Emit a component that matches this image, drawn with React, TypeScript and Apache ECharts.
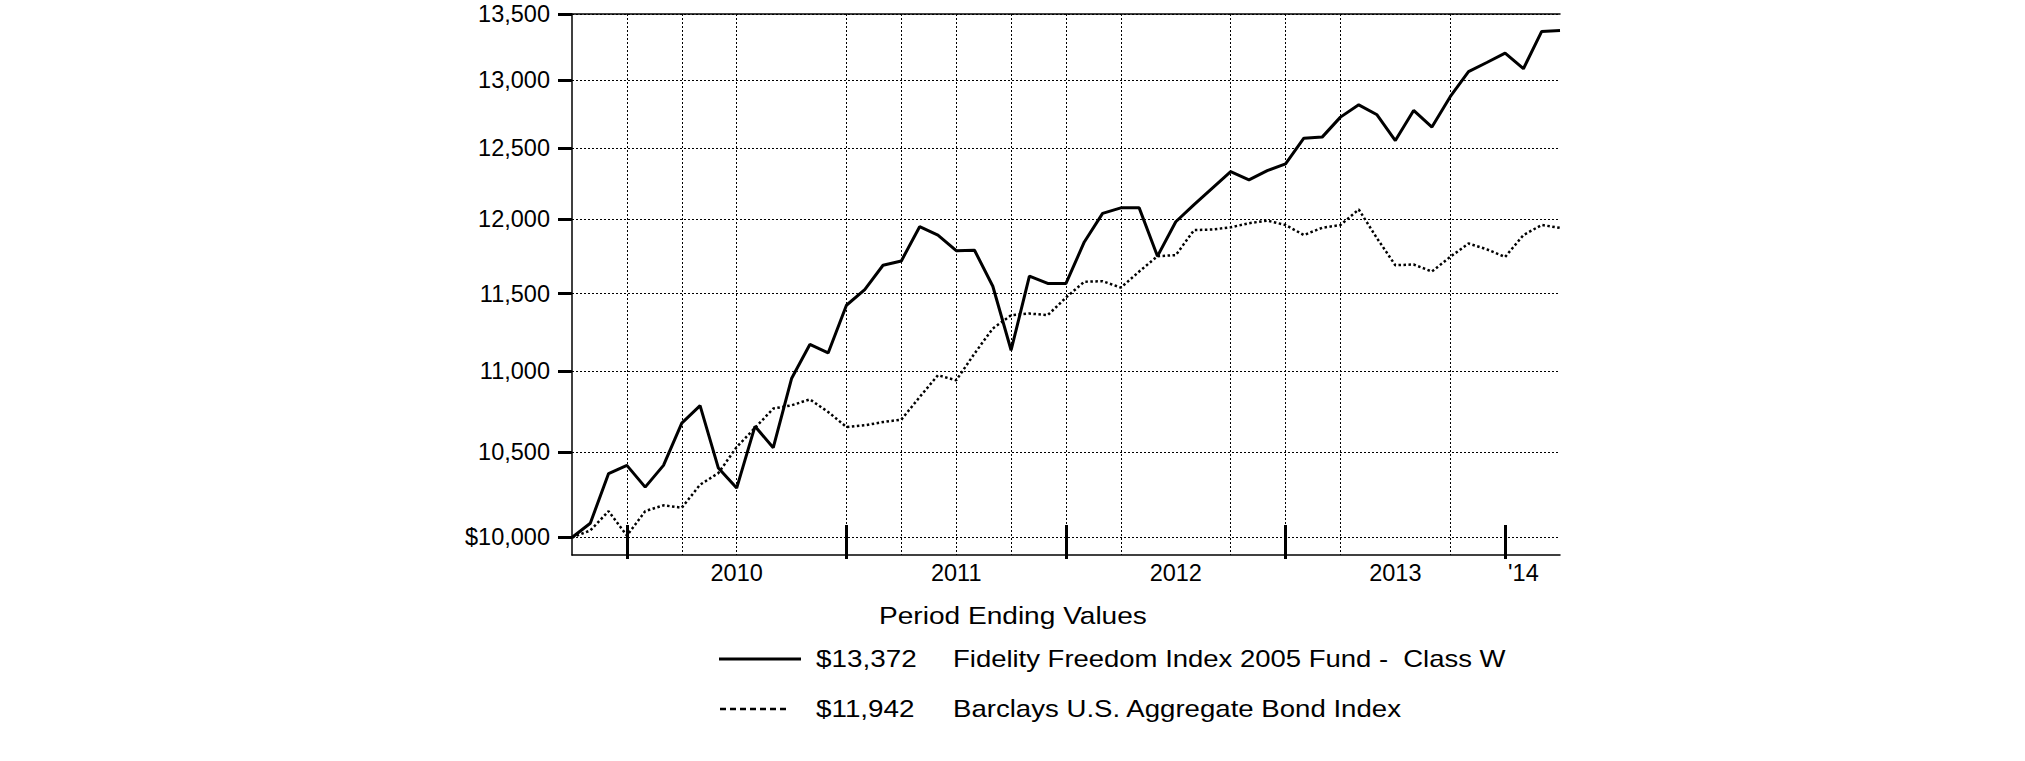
import React, { useEffect, useRef } from 'react';
import * as echarts from 'echarts';

const months = [
  'Sep 2009', 'Oct 2009', 'Nov 2009', 'Dec 2009',
  'Jan 2010', 'Feb 2010', 'Mar 2010', 'Apr 2010', 'May 2010', 'Jun 2010', 'Jul 2010', 'Aug 2010', 'Sep 2010', 'Oct 2010', 'Nov 2010', 'Dec 2010',
  'Jan 2011', 'Feb 2011', 'Mar 2011', 'Apr 2011', 'May 2011', 'Jun 2011', 'Jul 2011', 'Aug 2011', 'Sep 2011', 'Oct 2011', 'Nov 2011', 'Dec 2011',
  'Jan 2012', 'Feb 2012', 'Mar 2012', 'Apr 2012', 'May 2012', 'Jun 2012', 'Jul 2012', 'Aug 2012', 'Sep 2012', 'Oct 2012', 'Nov 2012', 'Dec 2012',
  'Jan 2013', 'Feb 2013', 'Mar 2013', 'Apr 2013', 'May 2013', 'Jun 2013', 'Jul 2013', 'Aug 2013', 'Sep 2013', 'Oct 2013', 'Nov 2013', 'Dec 2013',
  'Jan 2014', 'Feb 2014', 'Mar 2014',
];

const fundValues = [
  10000, 10082, 10373, 10422,
  10293, 10422, 10678, 10785, 10406, 10287, 10658, 10528, 10954, 11170, 11116, 11424,
  11527, 11689, 11718, 11950, 11893, 11787, 11790, 11549, 11133, 11617, 11568, 11568,
  11846, 12042, 12080, 12080, 11750, 11984, 12103, 12218, 12333, 12275, 12340, 12388,
  12572, 12580, 12725, 12815, 12742, 12555, 12774, 12653, 12875, 13062, 13130, 13201,
  13083, 13366, 13372,
];

const indexValues = [
  10000, 10040, 10152, 10011,
  10152, 10186, 10172, 10307, 10376, 10532, 10648, 10767, 10787, 10824, 10746, 10654,
  10664, 10684, 10699, 10838, 10975, 10943, 11112, 11273, 11359, 11370, 11359, 11475,
  11579, 11583, 11540, 11647, 11750, 11757, 11927, 11931, 11946, 11974, 11992, 11962,
  11893, 11943, 11962, 12069, 11871, 11689, 11694, 11647, 11745, 11836, 11796, 11745,
  11893, 11962, 11942,
];

const yTicks = [10000, 10500, 11000, 11500, 12000, 12500, 13000, 13500];
const majorTickMonths = ['Dec 2009', 'Dec 2010', 'Dec 2011', 'Dec 2012', 'Dec 2013'];
const gridMonths = [
  'Dec 2009', 'Mar 2010', 'Jun 2010', 'Dec 2010', 'Mar 2011', 'Jun 2011', 'Sep 2011',
  'Dec 2011', 'Mar 2012', 'Sep 2012', 'Dec 2012', 'Mar 2013', 'Sep 2013',
];
const yearLabelMonths = ['Jun 2010', 'Jun 2011', 'Jun 2012', 'Jun 2013', 'Jan 2014'];
const yearLabels = ['2010', '2011', '2012', '2013', "'14"];

const legendTitle = 'Period Ending Values';
const fundName = 'Fidelity Freedom Index 2005 Fund -  Class W';
const indexName = 'Barclays U.S. Aggregate Bond Index';
const fundEnd = '$13,372';
const indexEnd = '$11,942';

export default function App() {
  const ref = useRef<HTMLDivElement>(null);

  useEffect(() => {
    const chart = echarts.init(ref.current as HTMLDivElement, null, { renderer: 'svg' });
    const font = "'Liberation Sans', Arial, sans-serif";
    const black = '#000';
    const gridStyle = { type: [2, 2] as number[], color: black, width: 1 };
    const isMajor = (_i: number, v: string) => majorTickMonths.includes(v);
    const legendText = (text: string, x: number, y: number, sx: number) => ({
      type: 'text',
      x,
      y,
      scaleX: sx,
      style: {
        text,
        fontSize: 24,
        fontFamily: font,
        fill: black,
        align: 'left',
        verticalAlign: 'middle',
      },
    });

    chart.setOption({
      animation: false,
      backgroundColor: '#fff',
      grid: { left: 572, top: 14, width: 988, height: 541, containLabel: false },
      xAxis: [
        {
          type: 'category',
          data: months,
          boundaryGap: false,
          position: 'bottom',
          axisLine: { show: true, onZero: false, lineStyle: { color: black, width: 1.5 } },
          axisTick: { show: true, interval: isMajor, length: 4, lineStyle: { color: black, width: 3 } },
          axisLabel: {
            interval: (_i: number, v: string) => yearLabelMonths.includes(v),
            formatter: (v: string) => yearLabels[yearLabelMonths.indexOf(v)] ?? '',
            fontSize: 23.5,
            fontFamily: font,
            color: black,
            margin: 6,
          },
          splitLine: {
            show: true,
            interval: (_i: number, v: string) => gridMonths.includes(v),
            lineStyle: gridStyle,
          },
        },
        {
          type: 'category',
          data: months,
          boundaryGap: false,
          position: 'bottom',
          axisLine: { show: false, onZero: false },
          axisTick: { show: true, inside: true, interval: isMajor, length: 30, lineStyle: { color: black, width: 3 } },
          axisLabel: { show: false },
          splitLine: { show: false },
        },
        {
          type: 'category',
          data: months,
          boundaryGap: false,
          position: 'top',
          axisLine: { show: true, onZero: false, lineStyle: { color: black, width: 1.5 } },
          axisTick: { show: false },
          axisLabel: { show: false },
          splitLine: { show: false },
        },
      ],
      yAxis: {
        type: 'log',
        logBase: 10,
        min: 9900,
        max: 13500,
        axisLine: { show: true, onZero: false, lineStyle: { color: black, width: 1.5 } },
        axisTick: { show: true, length: 14, customValues: yTicks, lineStyle: { color: black, width: 3 } },
        axisLabel: {
          customValues: yTicks,
          formatter: (v: number) => {
            const r = Math.round(v / 100) * 100;
            const s = r.toLocaleString('en-US');
            return r === yTicks[0] ? '$' + s : s;
          },
          fontSize: 23.5,
          fontFamily: font,
          color: black,
          margin: 22,
        },
        splitLine: { show: true, lineStyle: gridStyle },
      },
      series: [
        {
          name: fundName,
          type: 'line',
          data: fundValues,
          xAxisIndex: 0,
          yAxisIndex: 0,
          symbol: 'none',
          z: 4,
          lineStyle: { color: black, width: 3 },
        },
        {
          name: indexName,
          type: 'line',
          data: indexValues,
          xAxisIndex: 0,
          yAxisIndex: 0,
          symbol: 'none',
          z: 3,
          lineStyle: { color: black, width: 2.5, type: [2.5, 2.5] },
        },
      ],
      graphic: [
        legendText(legendTitle, 879, 616, 1.17),
        { type: 'line', shape: { x1: 719, y1: 659, x2: 801, y2: 659 }, style: { stroke: black, lineWidth: 3 } },
        legendText(fundEnd, 816, 659, 1.16),
        legendText(fundName, 953, 659, 1.145),
        { type: 'line', shape: { x1: 720, y1: 709, x2: 790, y2: 709 }, style: { stroke: black, lineWidth: 2.5, lineDash: [6, 4] } },
        legendText(indexEnd, 816, 709, 1.16),
        legendText(indexName, 953, 709, 1.15),
      ],
    });

    return () => chart.dispose();
  }, []);

  return (
    <div
      ref={ref}
      style={{ position: 'fixed', left: 0, top: 0, width: 2025, height: 761, background: '#fff' }}
    />
  );
}
